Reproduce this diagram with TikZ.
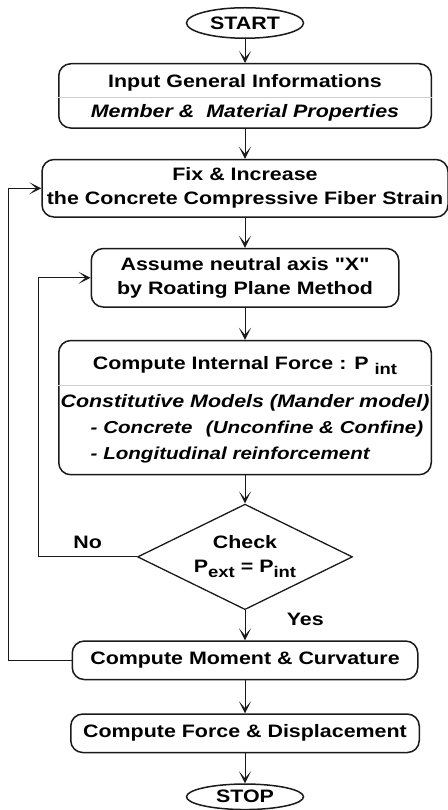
\documentclass[tikz,border=0pt]{standalone}
\usepackage{fontspec}
\setmainfont{Liberation Sans}[FakeStretch=1.19,Ligatures=TeXOff]
\usetikzlibrary{positioning,arrows.meta,shapes.geometric,shapes.multipart}
\definecolor{cLine}{HTML}{1A1A1A}
\definecolor{cSplit}{HTML}{D0D0D0}
\newcommand\fsMain{\fontsize{18}{24}\selectfont\bfseries}
\newcommand\fsSub{\fontsize{17.3}{24}\selectfont\bfseries}
\newcommand\lowsub[1]{\raisebox{-0.55ex}{\fontsize{15.5}{15.5}\selectfont #1}}
\tikzset{
  node-term/.style={ellipse,draw=cLine,line width=1.5pt,minimum width=117pt,
    minimum height=30.5pt,inner sep=0pt,font=\fsMain},
  node-box/.style={draw=cLine,line width=1.5pt,rounded corners=12pt,
    align=center,inner sep=0pt,font=\fsMain},
  node-split/.style={node-box,rectangle split,rectangle split parts=2,
    rectangle split draw splits=false,inner ysep=7pt},
  node-check/.style={diamond,draw=cLine,line width=1.3pt,aspect=2,inner sep=0pt,
    minimum width=215pt,minimum height=105.5pt,align=center,font=\fsMain},
  node-label/.style={font=\fsMain},
  arrow/.style={-{Stealth[length=12pt,width=12pt,inset=7pt]},line width=1pt,draw=cLine},
}
\begin{document}
\begin{tikzpicture}[x=1pt,y=1pt,node distance=30pt]
  \useasboundingbox (0,0) rectangle (447,-810);
  \node[node-term] (start) at (245,-23) {START};
  \node[node-split,inner ysep=6pt,minimum width=372.5pt,below=24pt of start] (input)
    {\rule[-3.8pt]{0pt}{20.5pt}Input General Informations%
     \nodepart{two}\rule{0pt}{13pt}\textit{Member \&\ \ Material Properties}};
  \node[node-box,minimum width=406pt,minimum height=57.5pt,below=of input] (fix)
    {Fix \& Increase\\the Concrete Compressive Fiber Strain};
  \node[node-box,minimum width=307.5pt,minimum height=58.5pt,below=of fix] (assume)
    {Assume neutral axis "X"\\by Roating Plane Method};
  \node[node-split,minimum width=372.5pt,below=32pt of assume] (force)
    {\rule[-8pt]{0pt}{29pt}Compute Internal Force : P \lowsub{int}%
     \nodepart{two}\rule{0pt}{15pt}\textit{Constitutive Models (Mander model)}\\[2pt]
     \hspace*{24pt}{\fsSub\begin{tabular}[t]{@{}l@{}}
       \textit{- Concrete\hspace{0.45em} (Unconfine \& Confine)}\\[2pt]
       \textit{- Longitudinal reinforcement}
     \end{tabular}}};
  \node[node-check,below=28pt of force] (check)
    {Check\\P\lowsub{ext} = P\lowsub{int}};
  \node[node-box,minimum width=345.5pt,minimum height=38.5pt,below=of check] (moment)
    {Compute Moment \& Curvature};
  \node[node-box,minimum width=348.5pt,minimum height=38.5pt,below=33pt of moment] (disp)
    {Compute Force \& Displacement};
  \node[node-term,minimum height=25.5pt,below=of disp] (stop) {STOP};
  % dividers of the two-part boxes
  \draw[cSplit,line width=0.8pt] (input.text split west) -- (input.text split east);
  \draw[cSplit,line width=0.8pt] (force.text split west) -- (force.text split east);
  % main flow
  \draw[arrow] (start) -- (input);
  \draw[arrow] (input) -- (fix);
  \draw[arrow] (fix) -- (assume);
  \draw[arrow] (assume) -- (force);
  \draw[arrow] (force) -- (check);
  \draw[arrow] (check) -- node[node-label,pos=0.3,right=38pt]{Yes} (moment);
  \draw[arrow] (moment) -- (disp);
  \draw[arrow] (disp) -- (stop);
  % loops back
  \draw[arrow] (check.west) -| node[node-label,pos=0.25,above=4pt]{No}
    ([xshift=-52pt]assume.west) -- (assume.west);
  \draw[arrow] (moment.west) -| ([xshift=-33pt]fix.west) -- (fix.west);
\end{tikzpicture}
\end{document}
